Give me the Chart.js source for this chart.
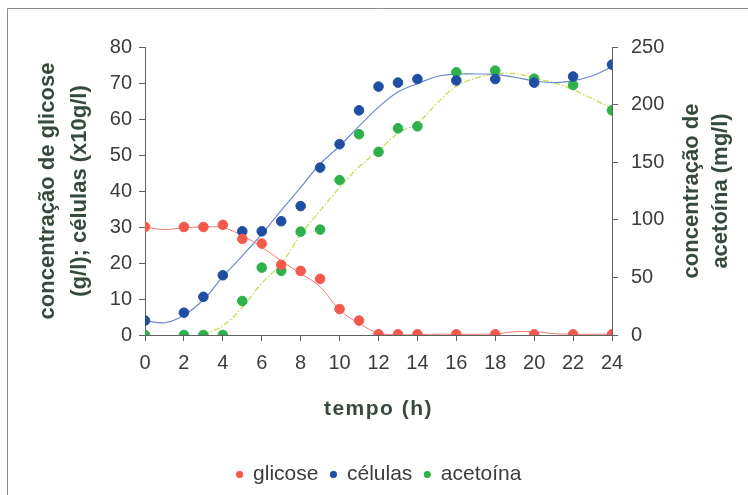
<!DOCTYPE html>
<html>
<head>
<meta charset="utf-8">
<script src="https://cdn.jsdelivr.net/npm/chart.js@4"></script>
<style>
html, body { margin: 0; padding: 0; background: #fff; }
</style>
</head>
<body>
<canvas id="chart" width="748" height="495"></canvas>
<script>
// sampling times (h)
const hours = [0, 2, 3, 4, 5, 6, 7, 8, 9, 10, 11, 12, 13, 14, 16, 18, 20, 22, 24];
const glicose = [30, 30, 30, 30.6, 26.7, 25.4, 19.5, 17.8, 15.6, 7.2, 4, 0.2, 0.2, 0.2, 0.2, 0.2, 0.2, 0.2, 0.2];
const celulas = [4, 6.2, 10.6, 16.6, 28.8, 28.8, 31.6, 35.8, 46.5, 53, 62.4, 69, 70.1, 71.1, 70.7, 71.1, 70.1, 71.8, 75.1];
const acetoina = [0, 0, 0, 0, 29.5, 58.5, 55.7, 89.7, 91.5, 134.5, 174.3, 159, 179.4, 181.1, 228, 229.5, 222.5, 217, 195];

// smoothed trend curves, hourly
const trendHours = [0, 1, 2, 3, 4, 5, 6, 7, 8, 9, 10, 11, 12, 13, 14, 15, 16, 17, 18, 19, 20, 21, 22, 23, 24];
const glicoseTrend = [30, 29.3, 29.8, 30, 29.8, 27.6, 24.4, 20.6, 17.1, 13.4, 7, 3.2, 0.6, 0, 0.1, 0.2, 0.2, 0.2, 0.3, 0.9, 0.9, 0.4, 0.2, 0.2, 0.2];
const celulasTrend = [4, 3.4, 5.5, 9.8, 16.2, 22, 28, 34.6, 41, 47.5, 52.5, 58, 63.3, 67.5, 69.8, 71.8, 72.5, 72.5, 72.4, 71.6, 70.6, 70.1, 70.6, 72, 74.5];
const acetoinaTrendHours = [3, 4, 5, 6, 7, 8, 9, 10, 11, 12, 13, 14, 15, 16, 17, 18, 19, 20, 21, 22, 23, 24];
const acetoinaTrend = [0, 8, 24, 45, 62, 87, 108, 128, 146, 160, 175, 184, 201, 216, 223, 226.5, 227, 223, 219, 213, 205, 197];

// axis ticks
const xTicks = [0, 2, 4, 6, 8, 10, 12, 14, 16, 18, 20, 22, 24];
const yLeftTicks = [0, 10, 20, 30, 40, 50, 60, 70, 80];
const yRightTicks = [0, 50, 100, 150, 200, 250];

const xTitle = 'tempo (h)';
const yLeftTitle = ['concentração de glicose', '(g/l); células (x10g/l)'];
const yRightTitle = ['concentração de', 'acetoína (mg/l)'];

const FONT = '"Liberation Sans", Arial, sans-serif';
const TEXT = '#3c3c3c';
const TITLE = '#364a3c';
const AXIS = '#606060';

const pts = (xs, ys) => xs.map((x, i) => ({ x: x, y: ys[i] }));

const decor = {
    id: 'decor',
    beforeDraw(chart) {
        const ctx = chart.ctx;
        ctx.save();
        ctx.strokeStyle = '#8c8c8c';
        ctx.lineWidth = 1;
        ctx.beginPath();
        ctx.moveTo(7.5, 495);
        ctx.lineTo(7.5, 8.5);
        ctx.lineTo(748, 8.5);
        ctx.stroke();
        ctx.restore();
    },
    afterDraw(chart) {
        const ctx = chart.ctx;
        const a = chart.chartArea;
        const midY = (a.top + a.bottom) / 2;
        const vText = (txt, x) => {
            ctx.save();
            ctx.translate(x, midY);
            ctx.rotate(-Math.PI / 2);
            ctx.fillText(txt, 0, 0);
            ctx.restore();
        };
        ctx.save();
        ctx.fillStyle = TITLE;
        ctx.textAlign = 'center';
        ctx.textBaseline = 'middle';
        ctx.font = 'bold 22px ' + FONT;
        vText(yLeftTitle[0], a.left - 97);
        vText(yLeftTitle[1], a.left - 65);
        vText(yRightTitle[0], a.right + 80);
        vText(yRightTitle[1], a.right + 109);
        ctx.font = 'bold 21px ' + FONT;
        ctx.letterSpacing = '1.5px';
        ctx.fillText(xTitle, (a.left + a.right) / 2, 409);
        ctx.restore();
    }
};

const tickFont = { family: FONT, size: 20 };

new Chart(document.getElementById('chart'), {
    type: 'scatter',
    data: {
        datasets: [
            {
                label: 'glicose',
                data: pts(hours, glicose),
                yAxisID: 'y',
                backgroundColor: '#f45a4b',
                borderColor: '#f45a4b',
                pointRadius: 4.8,
                pointStyle: 'circle'
            },
            {
                label: 'células',
                data: pts(hours, celulas),
                yAxisID: 'y',
                backgroundColor: '#1f4ea3',
                borderColor: '#1f4ea3',
                pointRadius: 4.8,
                pointStyle: 'circle'
            },
            {
                label: 'acetoína',
                data: pts(hours, acetoina),
                yAxisID: 'y2',
                backgroundColor: '#2eb14a',
                borderColor: '#2eb14a',
                pointRadius: 4.8,
                pointStyle: 'circle'
            },
            {
                label: 'glicose (curva)',
                data: pts(trendHours, glicoseTrend),
                yAxisID: 'y',
                showLine: true,
                borderColor: '#f07a6e',
                borderWidth: 1,
                pointRadius: 0,
                tension: 0.4
            },
            {
                label: 'células (curva)',
                data: pts(trendHours, celulasTrend),
                yAxisID: 'y',
                showLine: true,
                borderColor: '#6a8bcc',
                borderWidth: 1.2,
                pointRadius: 0,
                tension: 0.4
            },
            {
                label: 'acetoína (curva)',
                data: pts(acetoinaTrendHours, acetoinaTrend),
                yAxisID: 'y2',
                showLine: true,
                borderColor: '#c2df55',
                borderWidth: 1.3,
                borderDash: [6, 2, 1.5, 2],
                pointRadius: 0,
                tension: 0.4
            }
        ]
    },
    options: {
        responsive: false,
        animation: false,
        layout: { padding: { top: 47, left: 10, right: 0, bottom: 0 } },
        plugins: {
            tooltip: { enabled: false },
            legend: {
                position: 'bottom',
                labels: {
                    usePointStyle: true,
                    boxWidth: 6,
                    boxHeight: 4.5,
                    padding: 12,
                    color: TEXT,
                    font: { family: FONT, size: 21 },
                    filter: item => item.datasetIndex < 3
                }
            }
        },
        scales: {
            x: {
                type: 'linear',
                min: 0,
                max: 24,
                afterBuildTicks: s => { s.ticks = xTicks.map(v => ({ value: v })); },
                afterFit: s => { s.height = 117; },
                ticks: { color: TEXT, font: tickFont, padding: 10, maxRotation: 0 },
                grid: { drawOnChartArea: false, tickLength: 6, color: AXIS },
                border: { color: AXIS }
            },
            y: {
                position: 'left',
                min: 0,
                max: 80,
                afterBuildTicks: s => { s.ticks = yLeftTicks.map(v => ({ value: v })); },
                afterFit: s => { s.width = 135; },
                ticks: { color: TEXT, font: tickFont, padding: 7 },
                grid: { drawOnChartArea: false, tickLength: 6, color: AXIS },
                border: { color: AXIS }
            },
            y2: {
                position: 'right',
                min: 0,
                max: 250,
                afterBuildTicks: s => { s.ticks = yRightTicks.map(v => ({ value: v })); },
                afterFit: s => { s.width = 136; },
                ticks: { color: TEXT, font: tickFont, padding: 13 },
                grid: { drawOnChartArea: false, tickLength: 6, color: AXIS },
                border: { color: AXIS }
            }
        }
    },
    plugins: [decor]
});
</script>
</body>
</html>
